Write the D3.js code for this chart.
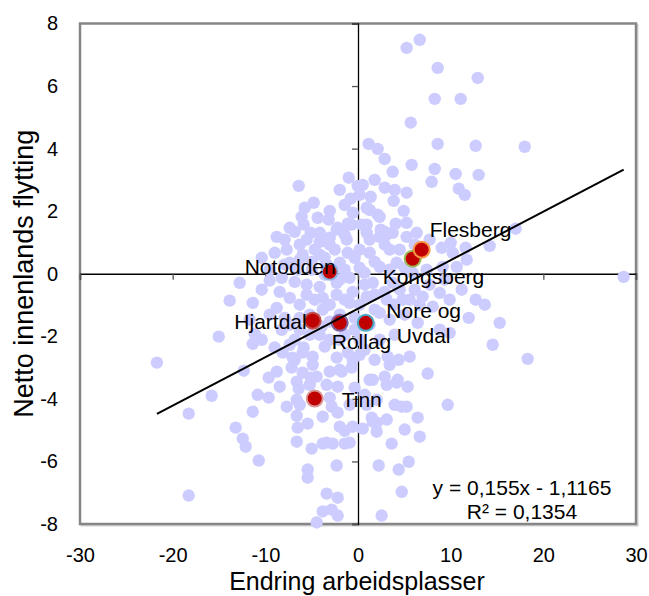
<!DOCTYPE html>
<html><head><meta charset="utf-8">
<script src="https://cdn.jsdelivr.net/npm/d3@7"></script>
<style>body{margin:0;background:#fff}</style>
</head><body>
<svg id="c" width="649" height="596"></svg>
<script>
// ---- data ----
const municipalityX = [5.25,6.66,8.60,12.92,8.28,11.08,5.69,1.15,2.12,8.60,12.70,17.99,2.88,3.74,5.79,8.28,7.95,10.54,13.02,10.87,11.52,-1.00,-0.03,-0.79,1.37,3.85,5.25,-3.05,-0.57,1.26,2.34,4.93,5.25,4.07,2.45,3.10,17.02,14.21,11.62,9.03,10.00,28.67,11.73,-6.40,-4.78,-6.08,-5.86,-5.10,-4.13,-3.16,-2.19,-1.11,0.94,-7.37,-6.29,-12.77,-9.53,-8.77,-6.83,-5.54,-4.13,-2.30,-1.22,-0.68,-2.51,-1.11,-1.97,-4.13,-5.97,-7.69,-8.99,-8.23,-6.83,-5.54,-4.13,-2.30,-0.90,0.18,-8.45,-7.37,-5.54,-3.81,-2.30,-0.57,-8.77,-3.81,-0.90,-13.85,-11.36,-11.15,-11.36,-15.03,-8.99,-21.70,-12.33,-9.64,-15.79,-10.82,-9.64,-18.27,-11.36,-13.20,-12.44,-12.12,-10.71,-18.27,-7.16,-6.61,-6.51,-5.43,-6.61,-5.00,-3.81,-5.43,-5.43,-3.38,-3.81,-4.46,-6.40,-5.10,-6.83,-4.89,-5.86,-8.12,-7.05,-5.97,-4.89,-3.59,-2.30,-1.11,-8.77,-5.97,-4.46,-3.05,-1.76,-0.68,-8.45,-6.61,-5.21,-3.38,-2.19,-0.36,-6.61,-3.05,-7.69,-6.29,-2.84,-2.19,-0.90,3.96,5.25,6.44,6.66,3.63,9.68,-2.73,-1.44,-1.44,-0.57,0.51,1.48,2.02,2.02,-2.30,2.23,4.39,5.47,4.72,-2.19,-2.19,2.55,5.58,4.39,3.20,7.52,4.28,2.88,1.59,3.10,4.72,6.44,8.82,9.89,15.29,14.53,18.31,11.95,-0.57,-1.97,1.26,4.17,5.36,2.02,0.94,-3.81,-1.97,1.59,-3.38,-0.90,-2.84,0.94,2.34,3.74,5.25,10.22,1.26,3.42,2.34,4.17,0.72,1.59,3.74,5.90,7.41,9.14,10.65,0.94,3.10,4.82,6.98,8.82,8.06,9.89,2.34,0.51,2.12,0.94,2.88,6.33,1.26,3.42,5.04,6.66,11.19,12.70,13.68,-3.38,-4.99,-1.44,-3.05,-0.36,-6.29,-7.37,-1.44,-4.13,-6.83,-1.97,0.18,0.72,2.34,3.96,1.80,0.18,-7.91,-9.53,-10.39,
  -4.67,-3.05,-6.29,-7.91,-3.59,-4.99,-6.51,-7.91,-1.97,-3.59,-0.36,-1.44,-3.05,-4.67,-6.29,-5.21,-1.97,-0.36,-3.05,-5.21,-7.37,-8.23,-6.29,-3.92,1.80,3.96,5.58,6.12,4.50,2.88,0.72,3.42,5.04,7.73,9.36,1.80,2.88,4.50,6.12,7.73,1.26,0.18,0.40,-1.44,-1.97,0.18,2.88,1.80,3.96,-3.05,-1.44,-5.75,-4.35,-7.37,-9.53,-10.39,-11.69,-10.39,0.18,1.80,3.42,0.72,3.10,5.04];
const municipalityY = [7.22,7.48,6.58,6.26,5.59,5.59,4.83,4.15,3.99,4.15,4.09,4.06,3.67,3.26,3.48,3.35,2.94,3.19,3.16,2.72,2.52,3.07,2.81,2.40,2.46,2.33,2.59,2.01,1.95,2.04,1.82,2.01,1.63,1.60,1.41,1.25,1.44,0.89,0.83,0.83,0.99,-0.10,0.45,2.81,2.27,1.82,1.57,1.31,1.02,1.73,1.47,1.60,2.11,0.35,0.45,-0.29,-0.22,1.18,1.34,1.09,1.31,1.41,1.09,1.57,0.77,0.67,0.35,0.61,0.61,0.77,0.67,-0.13,-0.26,-0.35,-0.42,-0.29,-0.13,0.19,-0.58,-0.77,-0.67,-0.77,-0.67,-0.58,-1.09,-1.15,-0.93,-0.86,-0.93,-1.92,-2.24,-2.01,-2.36,-2.84,-3.10,-3.32,-3.90,-3.87,-3.96,-4.47,-4.41,-4.92,-5.27,-5.53,-5.97,-7.09,-3.00,-4.54,-4.92,-4.79,-5.37,-5.59,-5.43,-6.26,-6.52,-7.03,-7.60,-7.95,-3.67,-3.32,-2.75,-2.91,-2.36,-2.52,-2.68,-2.52,-2.65,-2.33,-2.68,-2.52,-3.13,-3.16,-3.29,-3.13,-3.13,-3.00,-3.61,-3.45,-3.55,-3.55,-3.61,-3.64,-4.03,-3.96,-4.25,-4.19,-4.25,-4.44,-4.19,-4.19,-4.25,-4.60,-5.21,-5.43,-4.19,-5.43,-5.43,-5.02,-4.89,-4.95,-4.60,-5.05,-4.76,-6.13,-6.13,-6.26,-6.01,-6.97,-7.16,-7.73,-7.73,-2.65,-2.75,-2.65,-3.19,-3.39,-3.29,-3.39,-3.55,-4.25,-1.57,-1.79,-1.89,-1.57,-2.27,-2.72,-1.41,-2.75,-3.07,-3.39,-3.48,-3.61,-4.03,-4.19,-4.57,-4.89,-4.73,-5.40,-5.40,-7.54,1.31,1.18,1.31,1.18,0.67,0.67,0.77,0.22,0.35,0.03,-0.29,-0.29,0.03,0.13,0.22,0.22,-0.73,-0.83,-0.83,-0.73,-0.61,-1.05,-0.83,-1.25,2.84,1.89,1.57,1.34,1.31,-1.63,-1.47,-1.31,-0.99,-0.51,-0.83,-0.99,0.29,0.13,0.13,-1.53,-1.41,-1.41,-1.63,-1.95,-1.95,-2.11,-2.11,-2.11,-2.43,-2.11,-1.95,-0.67,-0.99,-1.41,-1.31,-0.51,
  0.77,0.93,0.93,1.09,0.51,0.38,0.13,0.29,-0.19,-0.03,0.51,-0.83,-0.99,-0.83,-0.99,-1.31,-1.31,-1.79,-2.11,-1.95,-2.27,-1.79,-1.79,-1.69,-1.15,-0.99,-0.83,-0.51,-0.51,-0.58,-0.35,0.13,0.19,-0.35,-0.19,0.38,0.93,0.77,0.93,1.09,1.09,0.77,1.57,2.20,2.68,2.52,2.75,3.00,2.68,1.15,1.25,2.11,1.79,1.47,0.13,0.51,-1.47,-2.11,-2.59,-2.75,-2.91,-3.87,-4.66,-4.98];

const highlightNames = ["Notodden", "Kongsberg", "Flesberg", "Hjartdal", "Rollag", "Nore og Uvdal", "Tinn"];
const highlightX = [-3.05, 5.90, 6.87, -4.89, -1.97, 0.83, -4.67];
const highlightY = [0.06, 0.48, 0.77, -1.50, -1.57, -1.57, -3.99];

const xTicks = [-30, -20, -10, 0, 10, 20, 30];
const yTicks = [-8, -6, -4, -2, 0, 2, 4, 6, 8];

const trendSlope = 0.155;
const trendIntercept = -1.1165;
const equationLines = ["y = 0,155x - 1,1165", "R\u00B2 = 0,1354"];
const xTitle = "Endring arbeidsplasser";
const yTitle = "Netto innenlands flytting";

// ---- styles / layout ----
const FONT = "'Liberation Sans', Arial, Helvetica, sans-serif";
const highlightStyle = [
  {stroke: "#8eb4e3", anchor: "end",    dx: 6,   lines: [{t: "Notodden", dy: 2}]},
  {stroke: "#9bbb59", anchor: "start",  dx: -30, lines: [{t: "Kongsberg", dy: 25}]},
  {stroke: "#f79646", anchor: "start",  dx: 8,   lines: [{t: "Flesberg", dy: -13}]},
  {stroke: "#c0504d", anchor: "end",    dx: -6,  lines: [{t: "Hjartdal", dy: 8}]},
  {stroke: "#8064a2", anchor: "start",  dx: -8,  lines: [{t: "Rollag", dy: 26}]},
  {stroke: "#4bacc6", anchor: "middle", dx: 58,  lines: [{t: "Nore og", dy: -5}, {t: "Uvdal", dy: 20}]},
  {stroke: "#d99694", anchor: "start",  dx: 27,  lines: [{t: "Tinn", dy: 8}]}
];

const svg = d3.select("#c");
const L = 80, R = 636, T = 23.5, B = 524;
const x = d3.scaleLinear().domain([-30, 30]).range([L, R]);
const y = d3.scaleLinear().domain([-8, 8]).range([B, T]);

// plot border
svg.append("rect").attr("x", L + 1.5).attr("y", T + 1.5).attr("width", R - L).attr("height", B - T)
  .attr("fill", "none").attr("stroke", "#d4d4d4").attr("stroke-width", 2);
svg.append("rect").attr("x", L).attr("y", T).attr("width", R - L).attr("height", B - T)
  .attr("fill", "#fff").attr("stroke", "#868686").attr("stroke-width", 2.5);

// outer tick labels
const yAxisLabels = svg.append("g").attr("transform", `translate(${L},0)`)
  .call(d3.axisLeft(y).tickValues(yTicks).tickSize(0).tickPadding(22).tickFormat(d => String(d)));
const xAxisLabels = svg.append("g").attr("transform", `translate(0,${B})`)
  .call(d3.axisBottom(x).tickValues(xTicks).tickSize(0).tickPadding(24).tickFormat(d => String(d)));
[yAxisLabels, xAxisLabels].forEach(g => {
  g.select(".domain").remove();
  g.selectAll("text").attr("font-family", FONT).attr("font-size", 20).attr("fill", "#000");
});

// inner crossing axes at zero
const yInner = svg.append("g").attr("transform", `translate(${x(0)},0)`)
  .call(d3.axisLeft(y).tickValues(yTicks).tickSize(6).tickSizeOuter(6).tickFormat(""));
const xInner = svg.append("g").attr("transform", `translate(0,${y(0)})`)
  .call(d3.axisBottom(x).tickValues(xTicks).tickSize(6).tickSizeOuter(6).tickFormat(""));
[yInner, xInner].forEach(g => {
  g.select(".domain").attr("stroke", "#000").attr("stroke-width", 1.3);
  g.selectAll(".tick line").attr("stroke", "#555").attr("stroke-width", 1.3);
});

// background points
const pts = municipalityX.map((v, i) => ({x: v, y: municipalityY[i]}));
svg.append("g").selectAll("circle").data(pts).join("circle")
  .attr("cx", d => x(d.x)).attr("cy", d => y(d.y)).attr("r", 6.2)
  .attr("fill", "#ccccff");

// highlighted points
const hl = highlightNames.map((n, i) => ({name: n, x: highlightX[i], y: highlightY[i], s: highlightStyle[i]}));
svg.append("g").selectAll("circle").data(hl).join("circle")
  .attr("cx", d => x(d.x)).attr("cy", d => y(d.y)).attr("r", 8)
  .attr("fill", "#c00000").attr("stroke", d => d.s.stroke).attr("stroke-width", 2);

// trend line over data x-extent
const allX = municipalityX.concat(highlightX);
const [x0, x1] = d3.extent(allX);
svg.append("line")
  .attr("x1", x(x0)).attr("y1", y(trendSlope * x0 + trendIntercept))
  .attr("x2", x(x1)).attr("y2", y(trendSlope * x1 + trendIntercept))
  .attr("stroke", "#000").attr("stroke-width", 2);

// labels
hl.forEach(d => {
  d.s.lines.forEach(l => {
    svg.append("text").attr("x", x(d.x) + d.s.dx).attr("y", y(d.y) + l.dy)
      .attr("text-anchor", d.s.anchor).attr("font-family", FONT).attr("font-size", 21)
      .attr("fill", "#000").text(l.t);
  });
});

// equation
equationLines.forEach((t, i) => {
  svg.append("text").attr("x", 522).attr("y", 495 + i * 24).attr("text-anchor", "middle")
    .attr("font-family", FONT).attr("font-size", 21).attr("fill", "#000").text(t);
});

// axis titles
svg.append("text").attr("x", (L + R) / 2 - 1).attr("y", 590).attr("text-anchor", "middle")
  .attr("font-family", FONT).attr("font-size", 25).attr("fill", "#000").text(xTitle);
svg.append("text").attr("transform", `translate(33,${(T + B) / 2}) rotate(-90)`).attr("text-anchor", "middle")
  .attr("font-family", FONT).attr("font-size", 27).attr("fill", "#000").text(yTitle);
</script>
</body></html>
